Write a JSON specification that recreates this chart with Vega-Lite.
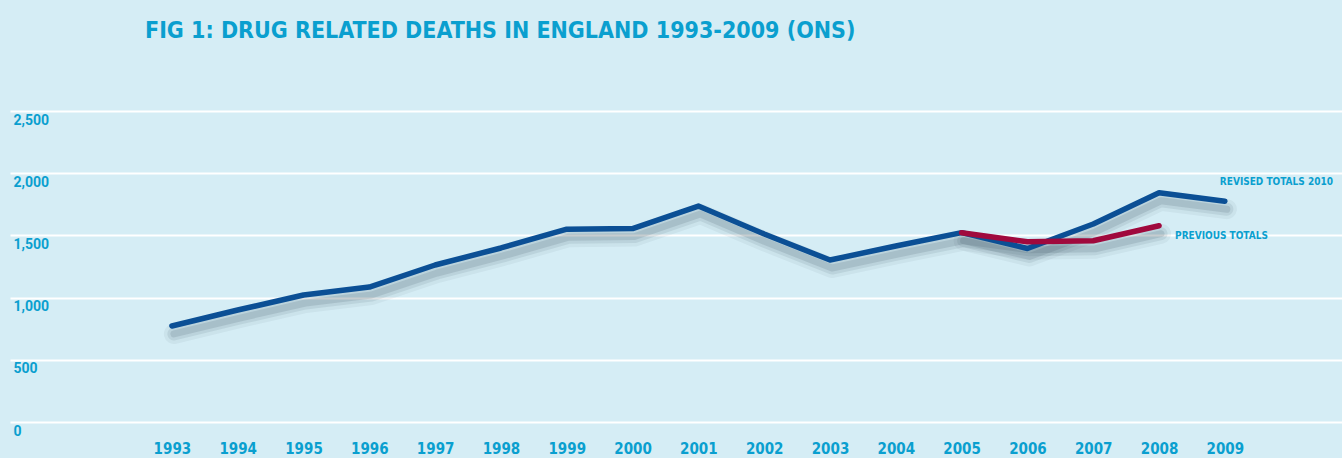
{
  "$schema": "https://vega.github.io/schema/vega-lite/v6.json",
  "autosize": {"type": "none"},
  "padding": {"left": 10, "top": 111, "right": 0, "bottom": 36},
  "width": 1332,
  "height": 311,
  "background": "#d5edf5",
  "config": {"view": {"stroke": null}},
  "title": {
    "text": "FIG 1: DRUG RELATED DEATHS IN ENGLAND 1993-2009 (ONS)",
    "anchor": "start",
    "frame": "group",
    "dx": 135,
    "offset": 50,
    "baseline": "alphabetic",
    "font": "DejaVu Sans Condensed, sans-serif",
    "fontSize": 23,
    "fontWeight": "bold",
    "color": "#0a9fcf"
  },
  "data": {
    "values": [
      {"year": 1993, "series": "Revised", "value": 772},
      {"year": 1994, "series": "Revised", "value": 900},
      {"year": 1995, "series": "Revised", "value": 1021},
      {"year": 1996, "series": "Revised", "value": 1085},
      {"year": 1997, "series": "Revised", "value": 1262},
      {"year": 1998, "series": "Revised", "value": 1399},
      {"year": 1999, "series": "Revised", "value": 1550},
      {"year": 2000, "series": "Revised", "value": 1555},
      {"year": 2001, "series": "Revised", "value": 1736},
      {"year": 2002, "series": "Revised", "value": 1511},
      {"year": 2003, "series": "Revised", "value": 1302},
      {"year": 2004, "series": "Revised", "value": 1415},
      {"year": 2005, "series": "Revised", "value": 1522},
      {"year": 2006, "series": "Revised", "value": 1395},
      {"year": 2007, "series": "Revised", "value": 1592},
      {"year": 2008, "series": "Revised", "value": 1843},
      {"year": 2009, "series": "Revised", "value": 1775},
      {"year": 2005, "series": "Previous", "value": 1522},
      {"year": 2006, "series": "Previous", "value": 1449},
      {"year": 2007, "series": "Previous", "value": 1457},
      {"year": 2008, "series": "Previous", "value": 1578}
    ]
  },
  "encoding": {
    "x": {
      "field": "year", "type": "quantitative",
      "scale": {"domain": [1990.54, 2010.78], "nice": false, "zero": false},
      "axis": {
        "title": null, "grid": false, "domain": false, "ticks": false, "tickSize": 0,
        "values": [1993,1994,1995,1996,1997,1998,1999,2000,2001,2002,2003,2004,2005,2006,2007,2008,2009],
        "format": "d", "labelPadding": 19, "labelBaseline": "top",
        "labelFont": "DejaVu Sans Condensed, sans-serif",
        "labelFontSize": 15, "labelFontWeight": "bold", "labelColor": "#0a9fcf"
      }
    },
    "y": {
      "field": "value", "type": "quantitative",
      "scale": {"domain": [0, 2500], "nice": false},
      "axis": {
        "title": null, "domain": false, "ticks": false, "tickSize": 0,
        "values": [0, 500, 1000, 1500, 2000, 2500],
        "grid": true, "gridColor": "#ffffff", "gridWidth": 2, "gridOpacity": 1,
        "labelAlign": "left", "labelBaseline": "top", "labelPadding": -3, "labelOffset": 2,
        "labelFont": "Roboto, sans-serif", "labelFontSize": 14, "labelFontWeight": "bold",
        "labelColor": "#0a9fcf", "format": ",d"
      }
    }
  },
  "layer": [
    {
      "mark": {"type": "line", "color": "#2f4a55", "opacity": 0.06, "strokeWidth": 20, "strokeCap": "round", "strokeJoin": "round", "yOffset": 8, "xOffset": 2},
      "encoding": {"detail": {"field": "series"}}
    },
    {
      "mark": {"type": "line", "color": "#2f4a55", "opacity": 0.1, "strokeWidth": 13, "strokeCap": "round", "strokeJoin": "round", "yOffset": 8, "xOffset": 2},
      "encoding": {"detail": {"field": "series"}}
    },
    {
      "mark": {"type": "line", "color": "#2f4a55", "opacity": 0.14, "strokeWidth": 7, "strokeCap": "round", "strokeJoin": "round", "yOffset": 8, "xOffset": 2},
      "encoding": {"detail": {"field": "series"}}
    },
    {
      "mark": {"type": "line", "strokeWidth": 5.5, "strokeCap": "round", "strokeJoin": "round"},
      "encoding": {
        "color": {"field": "series", "type": "nominal", "scale": {"domain": ["Previous", "Revised"], "range": ["#a0093d", "#0b4f95"]}, "legend": null},
        "order": {"field": "year"}
      }
    },
    {
      "transform": [{"filter": "datum.series == 'Revised' && datum.year == 2009"}],
      "mark": {"type": "text", "text": "REVISED TOTALS 2010", "align": "left", "baseline": "middle", "dx": -5, "dy": -19, "font": "DejaVu Sans Condensed, sans-serif", "fontSize": 10, "fontWeight": "bold", "color": "#0a9fcf"}
    },
    {
      "transform": [{"filter": "datum.series == 'Previous' && datum.year == 2008"}],
      "mark": {"type": "text", "text": "PREVIOUS TOTALS", "align": "left", "baseline": "middle", "dx": 16, "dy": 10, "font": "DejaVu Sans Condensed, sans-serif", "fontSize": 10, "fontWeight": "bold", "color": "#0a9fcf"}
    }
  ]
}
